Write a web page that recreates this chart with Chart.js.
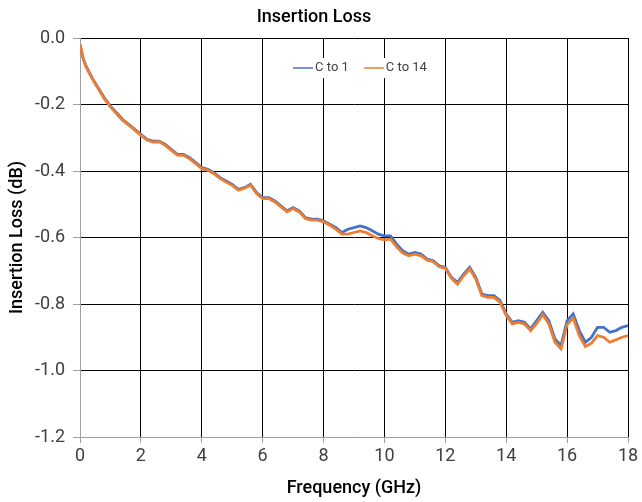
<!DOCTYPE html>
<html><head><meta charset="utf-8">
<script src="https://cdn.jsdelivr.net/npm/chart.js@4.4.1/dist/chart.umd.min.js"></script>
<style>html,body{margin:0;padding:0;background:#fff}#wrap{width:642px;height:502px}</style>
</head><body><div id="wrap"><canvas id="c" width="642" height="502"></canvas></div>
<script>
const freqGHz = [0,0.1,0.2,0.4,0.6,0.8,1.0,1.2,1.4,1.6,1.8,2.0,2.2,2.4,2.6,2.8,3.0,3.2,3.4,3.6,3.8,4.0,4.2,4.4,4.6,4.8,5.0,5.2,5.4,5.6,5.8,6.0,6.2,6.4,6.6,6.8,7.0,7.2,7.4,7.6,7.8,8.0,8.2,8.4,8.6,8.8,9.0,9.2,9.4,9.6,9.8,10.0,10.2,10.4,10.6,10.8,11.0,11.2,11.4,11.6,11.8,12.0,12.2,12.4,12.6,12.8,13.0,13.2,13.4,13.6,13.8,14.0,14.2,14.4,14.6,14.8,15.0,15.2,15.4,15.6,15.8,16.0,16.2,16.4,16.6,16.8,17.0,17.2,17.4,17.6,17.8,18.0];
const cTo1 = [-0.02,-0.06,-0.085,-0.12,-0.15,-0.18,-0.205,-0.225,-0.245,-0.26,-0.275,-0.29,-0.305,-0.31,-0.31,-0.32,-0.335,-0.35,-0.35,-0.36,-0.375,-0.39,-0.395,-0.405,-0.42,-0.43,-0.44,-0.455,-0.45,-0.44,-0.465,-0.48,-0.48,-0.49,-0.505,-0.52,-0.51,-0.52,-0.54,-0.545,-0.545,-0.55,-0.56,-0.57,-0.585,-0.575,-0.57,-0.565,-0.57,-0.58,-0.59,-0.595,-0.595,-0.62,-0.64,-0.65,-0.645,-0.65,-0.665,-0.67,-0.685,-0.69,-0.72,-0.735,-0.71,-0.69,-0.72,-0.77,-0.775,-0.775,-0.79,-0.83,-0.855,-0.85,-0.855,-0.875,-0.85,-0.825,-0.85,-0.905,-0.925,-0.85,-0.83,-0.88,-0.915,-0.9,-0.87,-0.87,-0.885,-0.88,-0.87,-0.865];
const cTo14 = [-0.02,-0.062,-0.088,-0.122,-0.153,-0.183,-0.207,-0.228,-0.248,-0.262,-0.277,-0.293,-0.307,-0.313,-0.312,-0.323,-0.338,-0.352,-0.353,-0.363,-0.378,-0.393,-0.398,-0.408,-0.423,-0.433,-0.443,-0.458,-0.452,-0.443,-0.468,-0.483,-0.483,-0.493,-0.508,-0.523,-0.513,-0.523,-0.543,-0.548,-0.548,-0.553,-0.563,-0.575,-0.59,-0.59,-0.585,-0.58,-0.585,-0.595,-0.603,-0.607,-0.605,-0.628,-0.647,-0.655,-0.65,-0.655,-0.668,-0.673,-0.688,-0.693,-0.723,-0.74,-0.715,-0.695,-0.725,-0.775,-0.78,-0.78,-0.795,-0.835,-0.86,-0.855,-0.86,-0.88,-0.858,-0.832,-0.86,-0.915,-0.935,-0.862,-0.842,-0.895,-0.928,-0.918,-0.895,-0.9,-0.915,-0.908,-0.9,-0.895];
const seriesNames = ['C to 1','C to 14'];
const xTicks = [0,2,4,6,8,10,12,14,16,18];
const yTicks = [0,-0.2,-0.4,-0.6,-0.8,-1.0,-1.2];

const toPts = arr => freqGHz.map((f,i)=>({x:f,y:arr[i]}));
const FONT = "Roboto, 'Open Sans', sans-serif";

// legend drawn inside the plot area, top center, with white background
const insideLegend = {
  id:'insideLegend',
  beforeDatasetsDraw(chart){
    const ctx = chart.ctx, a = chart.chartArea;
    ctx.save();
    ctx.font = "13px " + FONT;
    const lineW = 20, gap = 2, itemGap = 15;
    const items = chart.data.datasets.map(d => ({label:d.label, color:d.borderColor, w: lineW + gap + ctx.measureText(d.label).width}));
    const total = items.reduce((s,it)=>s+it.w,0) + itemGap*(items.length-1);
    const cx = (a.left + a.right)/2 + 6;
    const cy = a.top + 30;
    let x = cx - total/2;
    ctx.fillStyle = '#fff';
    ctx.fillRect(x - 8, cy - 10, total + 16, 20);
    ctx.textBaseline = 'middle';
    items.forEach(it => {
      ctx.strokeStyle = it.color; ctx.lineWidth = 1.5;
      ctx.beginPath(); ctx.moveTo(x, cy); ctx.lineTo(x+lineW, cy); ctx.stroke();
      ctx.fillStyle = '#404040';
      ctx.fillText(it.label, x + lineW + gap, cy);
      x += it.w + itemGap;
    });
    ctx.restore();
  }
};

new Chart(document.getElementById('c'), {
  type:'line',
  data:{datasets:[
    {label:seriesNames[0], data:toPts(cTo1), borderColor:'#4472C4', backgroundColor:'#4472C4', borderWidth:2.8, pointRadius:0, tension:0, order:1},
    {label:seriesNames[1], data:toPts(cTo14), borderColor:'#ED7D31', backgroundColor:'#ED7D31', borderWidth:2.8, pointRadius:0, tension:0, order:0}
  ]},
  options:{
    responsive:false, animation:false,
    layout:{padding:{left:0,right:14,top:0,bottom:0}},
    plugins:{
      title:{display:true, text:'Insertion Loss', color:'#000', font:{family:FONT, size:18, weight:'500', lineHeight:1.2}, padding:{top:7,bottom:9.4}},
      legend:{display:false},
      tooltip:{enabled:false}
    },
    scales:{
      x:{type:'linear', min:0, max:18,
        afterBuildTicks(s){ s.ticks = xTicks.map(v=>({value:v})); },
        afterFit(s){ s.height = 65; },
        ticks:{color:'#404040', font:{family:FONT,size:18}, padding:3, maxRotation:0},
        grid:{color:'#000', lineWidth:1, tickColor:'#a0a0a0', tickLength:6},
        border:{color:'#a0a0a0', width:1},
        title:{display:true, text:'Frequency (GHz)', color:'#000', font:{family:FONT,size:18,weight:'500'}, padding:{top:0,bottom:3}}
      },
      y:{type:'linear', min:-1.2, max:0,
        afterBuildTicks(s){ s.ticks = yTicks.map(v=>({value:v})); },
        afterFit(s){ s.width = 80; },
        ticks:{color:'#404040', font:{family:FONT,size:18}, padding:8, callback:v=>v.toFixed(1)},
        grid:{color:'#000', lineWidth:1, tickColor:'#a0a0a0', tickLength:7},
        border:{color:'#a0a0a0', width:1},
        title:{display:true, text:'Insertion Loss (dB)', color:'#000', font:{family:FONT,size:18,weight:'500'}, padding:{top:7,bottom:0}}
      }
    }
  },
  plugins:[insideLegend]
});
</script></body></html>
